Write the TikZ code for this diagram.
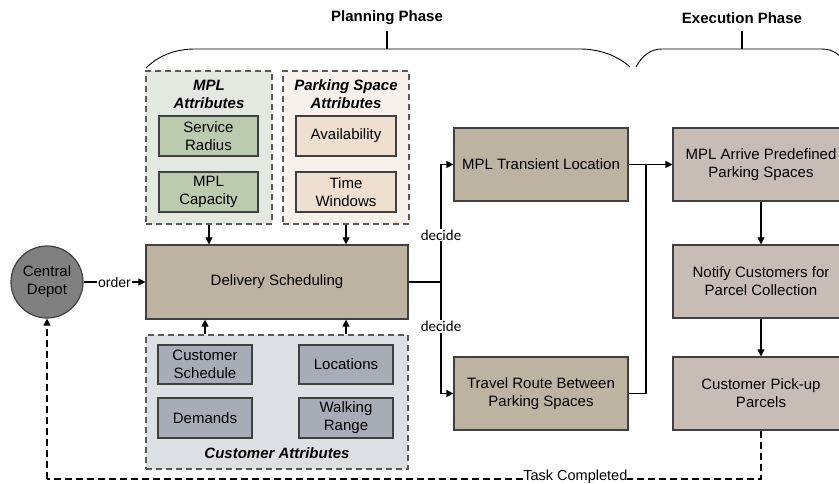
\documentclass[tikz,border=0pt]{standalone}
\usepackage{fontspec}
\setmainfont{Liberation Sans}
\newfontfamily\calfont{Carlito}
\usetikzlibrary{arrows.meta}
\definecolor{tanbox}{HTML}{BDB3A2}
\definecolor{exbox}{HTML}{C8BCB7}
\definecolor{depotc}{HTML}{808080}
\definecolor{mplbg}{HTML}{E3E9E0}
\definecolor{mplbox}{HTML}{BCCAB0}
\definecolor{pkbg}{HTML}{F9F2EC}
\definecolor{pkbox}{HTML}{EFDFD0}
\definecolor{cubg}{HTML}{DCDFE4}
\definecolor{cubox}{HTML}{A7ACB6}
\definecolor{bord}{HTML}{404040}
\definecolor{grpb}{HTML}{5A5A5A}
\tikzset{
  box/.style={draw=bord, line width=1.2pt, align=center, inner sep=2pt},
  grp/.style={draw=grpb, line width=1.1pt, dash pattern=on 6pt off 4pt},
  arr/.style={line width=1.2pt, -{Triangle[length=7pt,width=7pt]}},
  conn/.style={line width=1.2pt},
  lbl/.style={fill=white, inner sep=1pt},
  ttl/.style={font=\fontsize{15}{18}\selectfont\bfseries\itshape, align=center},
}
\begin{document}
\begin{tikzpicture}[x=1pt,y=-1pt, font=\fontsize{15}{18}\selectfont]
\useasboundingbox (0,0) rectangle (839,484);
\clip (0,0) rectangle (839,484);

% phase braces
\draw[line width=0.9pt] (146,68) .. controls (158,56) and (175,49) .. (195,49) -- (580,49) .. controls (600,49) and (618,56) .. (630,67);
\draw[line width=0.9pt] (636,67) .. controls (642,56) and (650,49) .. (662,49) -- (822,49) .. controls (834,49) and (842,56) .. (848,67);
\coordinate (pb) at (387,49);
\coordinate (eb) at (742,49);
\node[font=\fontsize{15}{18}\selectfont\bfseries] (plan) at (387,18) {Planning Phase};
\node[font=\fontsize{15}{18}\selectfont\bfseries] (exec) at (742,18) {Execution Phase};
\draw[line width=1.2pt] (pb) -- (pb |- 0,31);
\draw[line width=1.2pt] (eb) -- (eb |- 0,31);

% groups
\node[grp, fill=mplbg, minimum width=126pt, minimum height=153pt] (mplgrp) at (209,147.5) {};
\node[grp, fill=pkbg, minimum width=126pt, minimum height=153pt] (pkgrp) at (346,147.5) {};
\node[grp, fill=cubg, minimum width=262pt, minimum height=134pt] (custgrp) at (277,402) {};

\node[ttl] (mplt) at (209,94) {MPL\\Attributes};
\node[ttl] (pkt) at (346,94) {Parking Space\\Attributes};
\node[ttl] (cut) at (277,453) {Customer Attributes};

\node[box, fill=mplbox, minimum width=99pt, minimum height=40pt] (srad) at (208.5,136) {Service\\Radius};
\node[box, fill=mplbox, minimum width=99pt, minimum height=40pt] (mcap) at (208.5,192) {MPL\\Capacity};
\node[box, fill=pkbox, minimum width=100pt, minimum height=40pt] (avail) at (346,136) {Availability};
\node[box, fill=pkbox, minimum width=100pt, minimum height=40pt] (tw) at (346,192) {Time\\Windows};

\node[box, fill=cubox, minimum width=94pt, minimum height=39pt] (csched) at (205,364.5) {Customer\\Schedule};
\node[box, fill=cubox, minimum width=94pt, minimum height=39pt] (loc) at (346,364.5) {Locations};
\node[box, fill=cubox, minimum width=94pt, minimum height=40pt] (dem) at (205,418) {Demands};
\node[box, fill=cubox, minimum width=94pt, minimum height=40pt] (walk) at (346,418) {Walking\\Range};

% main nodes
\node[box, fill=tanbox, minimum width=262pt, minimum height=74pt] (deliv) at (277,282) {Delivery Scheduling};
\node[draw=bord, line width=1.2pt, circle, fill=depotc, minimum size=72pt, inner sep=0pt, align=center] (depot) at (47,282) {Central\\Depot};
\node[box, fill=tanbox, minimum width=174pt, minimum height=73pt] (trans) at (541,164.5) {MPL Transient Location};
\node[box, fill=tanbox, minimum width=174pt, minimum height=73pt] (route) at (541,393.5) {Travel Route Between\\Parking Spaces};
\node[box, fill=exbox, minimum width=176pt, minimum height=73pt] (arrive) at (761,164.5) {MPL Arrive Predefined\\Parking Spaces};
\node[box, fill=exbox, minimum width=176pt, minimum height=73pt] (notify) at (761,281.5) {Notify Customers for\\Parcel Collection};
\node[box, fill=exbox, minimum width=176pt, minimum height=73pt] (pickup) at (761,393.5) {Customer Pick-up\\Parcels};

% attribute arrows
\draw[arr] (mplgrp.south) -- (mplgrp.south |- deliv.north);
\draw[arr] (pkgrp.south) -- (pkgrp.south |- deliv.north);
\draw[arr] (csched.center |- custgrp.north) -- (csched.center |- deliv.south);
\draw[arr] (loc.center |- custgrp.north) -- (loc.center |- deliv.south);

% order
\draw[arr] (depot.east) -- node[lbl, font=\fontsize{14}{16}\selectfont] (ordl) {order} (deliv.west);

% decide branches
\coordinate (j1) at (441,282);
\draw[conn] (deliv.east) -- (j1);
\draw[arr] (j1) -- node[lbl, pos=0.4, font=\calfont\fontsize{15}{18}\selectfont] (dec1) {decide} (j1 |- trans.west) -- (trans.west);
\draw[arr] (j1) -- node[lbl, pos=0.4, font=\calfont\fontsize{15}{18}\selectfont] (dec2) {decide} (j1 |- route.west) -- (route.west);

% to execution
\draw[arr] (trans.east) -- (arrive.west);
\coordinate (j2) at (646,164.5);
\draw[conn] (route.east) -- (j2 |- route.east) -- (j2);
\draw[arr] (arrive.south) -- (notify.north);
\draw[arr] (notify.south) -- (pickup.north);

% task completed
\coordinate (r1) at (pickup.south |- 0,479);
\coordinate (r2) at (depot.south |- 0,479);
\draw[line width=1.1pt, dash pattern=on 7pt off 4pt] (pickup.south) -- (r1) -- node[lbl, pos=0.26, inner sep=0pt, yshift=2.5pt, font=\fontsize{14.5}{16}\selectfont] (tc) {Task Completed} (r2);
\draw[line width=1.1pt, dash pattern=on 7pt off 4pt, -{Triangle[length=7pt,width=7pt]}] (r2) -- (depot.south);
\end{tikzpicture}
\end{document}
